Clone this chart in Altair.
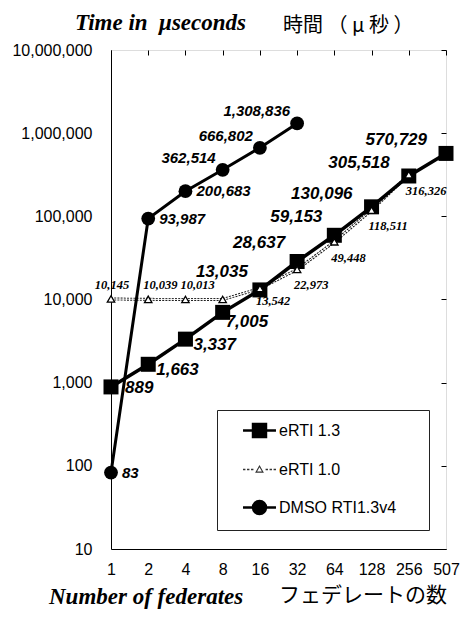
import altair as alt
import pandas as pd

# ---------------- data ----------------
federates = ["1", "2", "4", "8", "16", "32", "64", "128", "256", "507"]
erti13 = [889, 1663, 3337, 7005, 13035, 28637, 59153, 130096, 305518, 570729]
erti10 = [10145, 10039, 10013, 10006, 13542, 22973, 49448, 118511, 316326, None]
dmso = [83, 93987, 200683, 362514, 666802, 1308836, None, None, None, None]
series_names = ["eRTI 1.3", "eRTI 1.0", "DMSO RTI1.3v4"]
y_ticks = [10, 100, 1000, 10000, 100000, 1000000, 10000000]

title_en = "Time in\u00a0 μseconds"
title_ja = "時間 （ μ 秒 ）"
xtitle_en = "Number of federates"
xtitle_ja = "フェデレートの数"

rows = []
for name, vals in zip(series_names, [erti13, erti10, dmso]):
    for f, v in zip(federates, vals):
        if v is not None:
            rows.append({"fed": f, "series": name, "value": v, "label": f"{v:,}"})
df = pd.DataFrame(rows)

# ---------------- encodings ----------------
x_axis_main = alt.Axis(title=None, labelAngle=0, labelFont="Liberation Sans", labelFontSize=16,
                       labelColor="black", ticks=False, labelPadding=12, domainColor="black",
                       domainWidth=1, grid=False)
y_axis_main = alt.Axis(title=None, values=y_ticks, format=",d", labelFont="Liberation Sans",
                       labelFontSize=16, labelColor="black", ticks=False, labelPadding=19,
                       domainColor="black", domainWidth=1, grid=False)
# inward ticks: an axis pulled inside the plot with no labels and no line
x_axis_ticks = alt.Axis(title=None, labels=False, domain=False, ticks=True, tickSize=5,
                        tickColor="black", tickWidth=1, offset=-5, grid=False)
y_axis_ticks = alt.Axis(title=None, values=y_ticks, labels=False, domain=False, ticks=True,
                        tickSize=5, tickColor="black", tickWidth=1, offset=-5, grid=False)

x_scale = alt.Scale(type="point", padding=0, domain=federates)
y_scale = alt.Scale(type="log", domain=[10, 10000000])


def xe(axis=None):
    return alt.X("fed:O", scale=x_scale, axis=axis)


def ye(axis=None):
    return alt.Y("value:Q", scale=y_scale, axis=axis)


base = alt.Chart(df).encode(x=xe(), y=ye())


def pick(name, feds=None):
    c = base.transform_filter(alt.FieldEqualPredicate(field="series", equal=name))
    if feds is not None:
        c = c.transform_filter(alt.FieldOneOfPredicate(field="fed", oneOf=feds))
    return c


E13, E10, DM = series_names

line_e10_out = pick(E10).mark_line(color="#222", strokeWidth=3, strokeDash=[2, 1.2])
line_e10_in = pick(E10).mark_line(color="white", strokeWidth=1)
line_e13 = pick(E13).mark_line(color="black", strokeWidth=3.5).encode(
    x=xe(x_axis_main), y=ye(y_axis_main))
line_dm = pick(DM).mark_line(color="black", strokeWidth=3)

pts_e13 = pick(E13).mark_point(shape="square", filled=True, color="black", size=225, opacity=1)
pts_dm = pick(DM).mark_point(shape="circle", filled=True, color="black", size=190, opacity=1)
pts_e10 = pick(E10).mark_point(shape="triangle-up", filled=True, fill="white", stroke="black",
                               strokeWidth=1.3, size=55, opacity=1)

sans_bi = dict(font="Liberation Sans", fontStyle="italic", fontWeight="bold", color="black")
serif_bi = dict(font="Liberation Serif", fontStyle="italic", fontWeight="bold", color="black")


def lbl(name, feds, align, dx, dy, size, style):
    return pick(name, feds).mark_text(align=align, baseline="middle", dx=dx, dy=dy,
                                      fontSize=size, **style).encode(text="label:N")


labels = [
    lbl(E13, ["16", "32", "64"], "right", -12, -18, 17, sans_bi),
    lbl(E13, ["128", "256", "507"], "right", -19, -13, 17, sans_bi),
    lbl(E13, ["1"], "left", 14, 1, 17, sans_bi),
    lbl(E13, ["2", "4"], "left", 8, 6, 17, sans_bi),
    lbl(E13, ["8"], "left", 3, 10, 17, sans_bi),
    lbl(E10, ["1"], "center", 1, -14, 12.5, serif_bi),
    lbl(E10, ["2", "4"], "left", -5, -14, 12.5, serif_bi),
    lbl(E10, ["16"], "left", -4, 12, 12.5, serif_bi),
    lbl(E10, ["32", "64", "128", "256"], "left", -3, 16, 12.5, serif_bi),
    lbl(DM, ["1", "2", "4"], "left", 11, 0, 15, sans_bi),
    lbl(DM, ["8", "16", "32"], "right", -7, -12, 15, sans_bi),
]

# ---------------- legend (library legend with custom symbols) ----------------
sym_sq = "M-2.06,0H-0.81M0.81,0H2.06M-0.81,-0.81H0.81V0.81H-0.81Z"
sym_tri = ("M-2.06,-0.08H-1.76V0.08H-2.06Z M-1.56,-0.08H-1.26V0.08H-1.56Z "
           "M-1.06,-0.08H-0.76V0.08H-1.06Z M0.76,-0.08H1.06V0.08H0.76Z "
           "M1.26,-0.08H1.56V0.08H1.26Z M1.76,-0.08H2.06V0.08H1.76Z "
           "M0,-0.55L0.55,0.4L-0.55,0.4Z M0,-0.27L-0.3,0.24L0.3,0.24Z")
sym_circ = "M-2.06,0H-0.81M0.81,0H2.06M0.81,0A0.81,0.81 0 1,1 -0.81,0A0.81,0.81 0 1,1 0.81,0Z"

leg = alt.Legend(title="\u00a0", titleOrient="right", titlePadding=22, titleFontSize=16,
                 orient="none", legendX=106, legendY=360,
                 labelFont="Liberation Sans", labelFontSize=16, labelColor="black",
                 symbolSize=256, symbolStrokeWidth=2.5, padding=11, rowPadding=18,
                 symbolOffset=22, labelOffset=10, strokeColor="#222", fillColor="white")

legend_layer = alt.Chart(df).transform_filter("false").mark_point(
    filled=True, opacity=1, size=256, strokeWidth=2.5).encode(
    x=xe(x_axis_ticks), y=ye(y_axis_ticks),
    shape=alt.Shape("series:N", scale=alt.Scale(domain=series_names, range=[sym_sq, sym_tri, sym_circ]), legend=leg),
    fill=alt.Fill("series:N", scale=alt.Scale(domain=series_names, range=["black", "#333", "black"]), legend=leg),
    stroke=alt.Stroke("series:N", scale=alt.Scale(domain=series_names, range=["black", "transparent", "black"]), legend=leg),
)

# ---------------- titles as text ----------------
tdf = pd.DataFrame({"en": [title_en], "ja": [title_ja], "xen": [xtitle_en], "xja": [xtitle_ja]})
tbase = alt.Chart(tdf)
t1 = tbase.mark_text(align="left", baseline="alphabetic", fontSize=23, **serif_bi).encode(
    text="en:N", x=alt.value(-36), y=alt.value(-20))
t2 = tbase.mark_text(align="left", baseline="alphabetic", fontSize=20, font="Noto Sans CJK JP",
                     color="black").encode(text="ja:N", x=alt.value(172), y=alt.value(-18))
t3 = tbase.mark_text(align="left", baseline="alphabetic", fontSize=23, **serif_bi).encode(
    text="xen:N", x=alt.value(-62), y=alt.value(554))
t4 = tbase.mark_text(align="left", baseline="alphabetic", fontSize=21, font="Noto Sans CJK JP",
                     color="black").encode(text="xja:N", x=alt.value(168), y=alt.value(552))

chart = alt.layer(
    line_e10_out, line_e10_in, line_e13, line_dm,
    pts_e13, pts_dm, pts_e10,
    *labels,
    legend_layer, t1, t2, t3, t4,
).resolve_scale(shape="independent", fill="independent", stroke="independent").resolve_axis(
    x="independent", y="independent").properties(
    width=335, height=499,
    autosize=alt.AutoSizeParams(type="none"),
    padding={"left": 103, "top": 42, "right": 15, "bottom": 60},
).configure_view(stroke="#666", strokeDash=[2, 2], strokeWidth=1).configure(background="white")

chart.save("out.html", embed_options={"renderer": "svg", "actions": False})
